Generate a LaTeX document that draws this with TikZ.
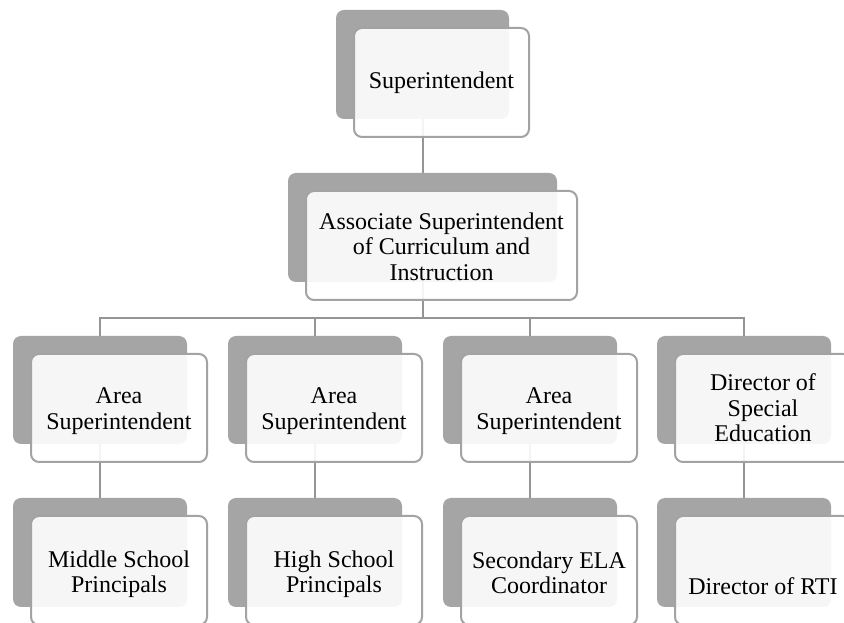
\documentclass[tikz,border=0pt]{standalone}
\usepackage{fontspec}
\setmainfont{Liberation Serif}
\definecolor{plate}{HTML}{A5A5A5}
\definecolor{rim}{HTML}{A3A3A3}
\definecolor{wire}{HTML}{959595}
\tikzset{
  backplate/.style={rectangle, rounded corners=6pt, fill=plate, draw=none, inner sep=0pt},
  card/.style={rectangle, rounded corners=6pt, draw=rim, line width=1.5pt,
    fill=white, fill opacity=0.9, inner sep=0pt},
  cardtext/.style={inner sep=0pt, align=center, font=\fontsize{18}{19}\selectfont},
  wireline/.style={draw=wire, line width=1.5pt}
}
% #1 name, #2..#5 corners of the back plate in px (x0,y0,x1,y1)
\newcommand\orgplate[5]{%
  \node[backplate, minimum width={(#4-#2)*0.75pt}, minimum height={(#5-#3)*0.75pt}]
    (#1-b) at ({(#2+#4)/2},{(#3+#5)/2}) {};}
% #1 name, #2..#5 corners of the back plate, #6 text, #7 text drop in px;
% the card sits lower right of its plate
\newcommand\orgcard[7]{%
  \node[card, minimum width={(#4-#2+2)*0.75pt}, minimum height={(#5-#3)*0.75pt}]
    (#1) at ({(#2+#4)/2+19},{(#3+#5)/2+18}) {};
  \node[cardtext] (#1-t) at ($(#1.center)+(0,#7)$) {#6};}
\usetikzlibrary{calc}
\begin{document}
\begin{tikzpicture}[x=0.75pt, y=-0.75pt]
\useasboundingbox (0,0) rectangle (844,623);
\clip (0,0) rectangle (844,623);
\fill[white] (0,0) rectangle (844,623);

% back plates
\orgplate{sup}{336}{10}{509}{119}
\orgplate{aso}{288}{173}{557}{282}
\orgplate{ar1}{13}{336}{187}{444}
\orgplate{ar2}{228}{336}{402}{444}
\orgplate{ar3}{443}{336}{617}{444}
\orgplate{dse}{657}{336}{831}{444}
\orgplate{msp}{13}{498}{187}{607}
\orgplate{hsp}{228}{498}{402}{607}
\orgplate{ela}{443}{498}{617}{607}
\orgplate{rti}{657}{498}{831}{607}

% connectors
\coordinate (bus) at (0,318);
\draw[wireline] (sup-b.south) -- (aso-b.north);
\foreach \c in {ar1,ar2,ar3,dse}{
  \draw[wireline] (aso-b.south) -- (aso-b.south |- bus) -| (\c-b.north);
}
\draw[wireline] (ar1-b.south) -- (msp-b.north);
\draw[wireline] (ar2-b.south) -- (hsp-b.north);
\draw[wireline] (ar3-b.south) -- (ela-b.north);
\draw[wireline] (dse-b.south) -- (rti-b.north);

% cards
\orgcard{sup}{336}{10}{509}{119}{Superintendent}{0}
\orgcard{aso}{288}{173}{557}{282}{Associate Superintendent\\of Curriculum and\\Instruction}{1}
\orgcard{ar1}{13}{336}{187}{444}{Area\\Superintendent}{3}
\orgcard{ar2}{228}{336}{402}{444}{Area\\Superintendent}{3}
\orgcard{ar3}{443}{336}{617}{444}{Area\\Superintendent}{3}
\orgcard{dse}{657}{336}{831}{444}{Director of\\Special\\Education}{0}
\orgcard{msp}{13}{498}{187}{607}{Middle School\\Principals}{4}
\orgcard{hsp}{228}{498}{402}{607}{High School\\Principals}{4}
\orgcard{ela}{443}{498}{617}{607}{Secondary ELA\\Coordinator}{2}
\orgcard{rti}{657}{498}{831}{607}{Director of RTI}{16}
\end{tikzpicture}
\end{document}
